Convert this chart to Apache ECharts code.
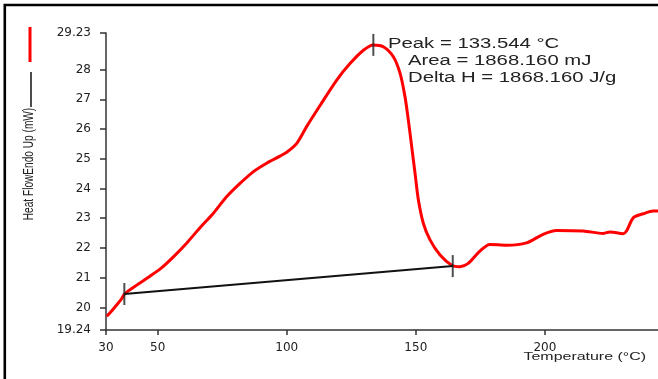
<!DOCTYPE html>
<html>
<head>
<meta charset="utf-8">
<script src="https://cdn.jsdelivr.net/npm/echarts@6/dist/echarts.min.js"></script>
<style>
html,body{margin:0;padding:0;background:#fff;}
#chart{width:658px;height:379px;}
</style>
</head>
<body>
<div id="chart"></div>
<script>
// DSC curve (red): temperature (°C) and heat flow (mW)
const temperature = [30.3, 32.0, 34.1, 35.8, 37.4, 41.9, 47.0, 51.5, 56.1, 61.3, 66.4, 71.6, 76.7, 81.9, 87.0, 92.2, 97.4, 100.0, 103.9, 107.7, 112.9, 119.3, 124.5, 129.7, 133.5, 137.4, 141.3, 143.9, 145.8, 147.1, 148.4, 149.7, 151.0, 152.9, 155.5, 159.4, 163.9, 167.1, 170.3, 174.8, 178.7, 185.2, 192.9, 199.3, 204.5, 214.8, 222.6, 225.2, 230.3, 231.6, 234.3, 238.1, 242, 243.8];
const heatFlow = [19.70, 19.86, 20.08, 20.26, 20.47, 20.75, 21.05, 21.33, 21.70, 22.17, 22.68, 23.17, 23.72, 24.17, 24.56, 24.85, 25.09, 25.22, 25.52, 26.08, 26.79, 27.64, 28.20, 28.65, 28.83, 28.77, 28.43, 27.87, 27.09, 26.30, 25.41, 24.51, 23.61, 22.83, 22.27, 21.76, 21.42, 21.37, 21.48, 21.89, 22.12, 22.09, 22.17, 22.46, 22.59, 22.57, 22.49, 22.54, 22.48, 22.57, 23.02, 23.15, 23.24, 23.24];
// Integration baseline (black)
const baselineT = [37.1, 164.3];
const baselineV = [20.45, 21.39];
// Onset / peak / end markers
const markerT = [37.1, 133.544, 164.3];
const markerV = [20.45, 28.83, 21.39];
// Axis ticks
const xTicks = [30, 50, 100, 150, 200, 250];
const yTicks = [19.24, 20, 21, 22, 23, 24, 25, 26, 27, 28, 29.23];
// Texts
const annotations = ['Peak = 133.544 °C', 'Area = 1868.160 mJ', 'Delta H = 1868.160 J/g'];
const yTitle = 'Heat FlowEndo Up (mW)';
const xTitle = 'Temperature (°C)';

const zip = (a, b) => a.map((v, i) => [v, b[i]]);
const chart = echarts.init(document.getElementById('chart'));
const axisColor = '#333';
const txtColor = '#222';
chart.setOption({
  backgroundColor: '#fff',
  animation: false,
  grid: {left: 106, right: 0, top: 33, bottom: 49, containLabel: false, outerBoundsMode: 'none'},
  xAxis: {
    type: 'value', min: 30, max: 243.8,
    axisLine: {show: true, onZero: false, lineStyle: {color: axisColor, width: 1.5}},
    axisTick: {show: true, length: 5, customValues: xTicks, lineStyle: {color: axisColor, width: 1.5}},
    axisLabel: {customValues: xTicks, margin: 12, fontFamily: 'DejaVu Sans', fontSize: 12, color: txtColor},
    splitLine: {show: false}
  },
  yAxis: {
    type: 'value', min: 19.24, max: 29.23,
    axisLine: {show: true, onZero: false, lineStyle: {color: axisColor, width: 1.5}},
    axisTick: {show: true, length: 6, customValues: yTicks, lineStyle: {color: axisColor, width: 1.5}},
    axisLabel: {customValues: yTicks, margin: 15, fontFamily: 'DejaVu Sans', fontSize: 12, color: txtColor},
    splitLine: {show: false}
  },
  series: [
    {type: 'line', data: zip(temperature, heatFlow), showSymbol: false, smooth: 0.3,
     lineStyle: {color: '#ff0000', width: 3}, z: 2},
    {type: 'line', data: zip(baselineT, baselineV), showSymbol: false,
     lineStyle: {color: '#111', width: 2}, z: 3},
    {type: 'scatter', data: zip(markerT, markerV), symbol: 'rect', symbolSize: [2, 22],
     itemStyle: {color: '#222'}, z: 4}
  ],
  graphic: [
    {type: 'polyline', shape: {points: [[4.8, 379], [4.8, 5], [658, 5]]}, style: {stroke: '#000', lineWidth: 2.6, fill: null}},
    {type: 'line', shape: {x1: 30, y1: 27, x2: 30, y2: 62}, style: {stroke: '#ff0000', lineWidth: 3}},
    {type: 'line', shape: {x1: 31, y1: 72, x2: 31, y2: 107}, style: {stroke: '#111', lineWidth: 1.5}},
    {type: 'text', x: 29, y: 164, rotation: Math.PI / 2, scaleX: 0.92, scaleY: 1.35,
     style: {text: yTitle, font: '11px "Liberation Sans"', fill: txtColor, align: 'center', verticalAlign: 'middle'}},
    {type: 'text', x: 646, y: 357, scaleX: 1.45,
     style: {text: xTitle, font: '11px "Liberation Sans"', fill: txtColor, align: 'right', verticalAlign: 'middle'}},
    {type: 'text', x: 388, y: 44, scaleX: 1.45,
     style: {text: annotations[0], font: '14px "Liberation Sans"', fill: txtColor, align: 'left', verticalAlign: 'middle'}},
    {type: 'text', x: 408, y: 61, scaleX: 1.45,
     style: {text: annotations[1], font: '14px "Liberation Sans"', fill: txtColor, align: 'left', verticalAlign: 'middle'}},
    {type: 'text', x: 408, y: 78, scaleX: 1.45,
     style: {text: annotations[2], font: '14px "Liberation Sans"', fill: txtColor, align: 'left', verticalAlign: 'middle'}}
  ]
});
</script>
</body>
</html>
